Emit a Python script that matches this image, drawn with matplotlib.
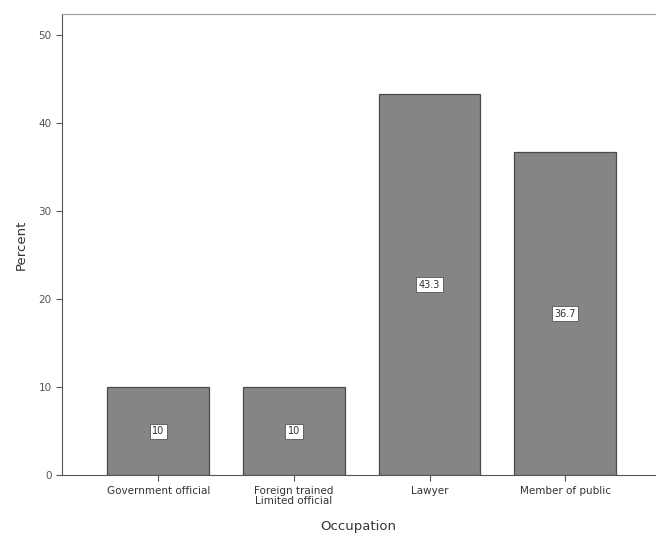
import matplotlib.pyplot as plt

categories = ["Government official", "Foreign trained\nLimited official", "Lawyer", "Member of public"]
percent = [10.0, 10.0, 43.3, 36.7]
bar_labels = ["10", "10", "43.3", "36.7"]
yticks = [0, 10, 20, 30, 40, 50]

fig = plt.figure(figsize=(6.6, 5.5), dpi=100)
ax = fig.add_axes([0.094, 0.136, 0.898, 0.839])

x = range(len(categories))
bars = ax.bar(x, percent, width=0.75, color="#858585", edgecolor="#4a4a4a", linewidth=0.9)

# value labels in the middle of each bar
for rect, lab in zip(bars, bar_labels):
    ax.text(rect.get_x() + rect.get_width() / 2, rect.get_height() / 2, lab,
            ha="center", va="center", fontsize=7, color="#333333",
            bbox=dict(boxstyle="square,pad=0.25", fc="white", ec="#555555", lw=0.6))

ax.set_xlim(-0.71, 3.66)
ax.set_ylim(0, 52.4)
ax.set_yticks(yticks)
ax.set_xticks(list(x))
ax.set_xticklabels(categories, fontsize=7.5, color="#333333", linespacing=1.1)
ax.tick_params(axis="y", labelsize=7.5, colors="#555555", length=4)
ax.tick_params(axis="x", length=4, colors="#555555")
for lab in ax.get_xticklabels():
    lab.set_color("#333333")

ax.spines["top"].set_color("#999999")
ax.spines["right"].set_visible(False)
ax.spines["left"].set_color("#555555")
ax.spines["bottom"].set_color("#555555")

ax.set_ylabel("Percent", fontsize=9.5, color="#333333", labelpad=8)
ax.set_xlabel("Occupation", fontsize=9.5, color="#333333", labelpad=10)

fig.savefig("out.png", dpi=100)
